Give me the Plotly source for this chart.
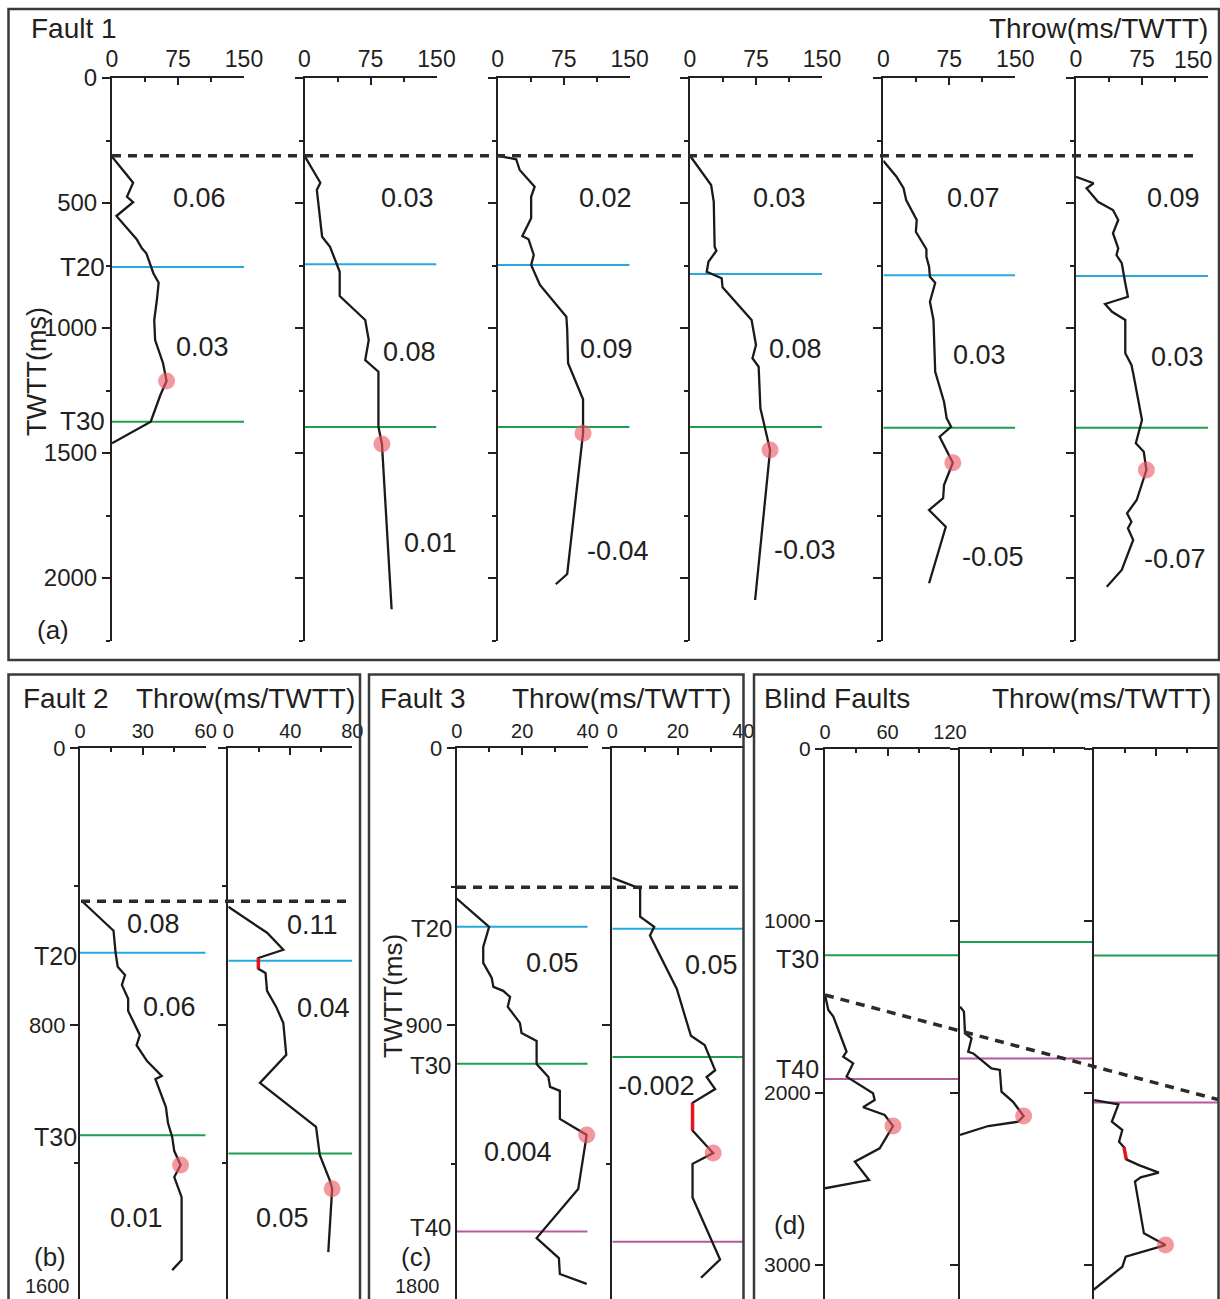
import plotly.graph_objects as go

# ===================== DATA =====================
# Panel (a) Fault 1: six throw profiles, throw (ms TWTT) vs TWTT (ms)
a1_throw = [0, 24, 17, 24, 5, 28, 34, 39, 47, 53, 51, 48, 49, 58, 62, 55, 44, 0]
a1_twtt = [315, 419, 475, 497, 552, 645, 681, 701, 781, 819, 888, 968, 1048, 1141, 1212, 1268, 1375, 1461]
a2_throw = [0, 18, 14, 20, 29, 40, 40, 69, 73, 69, 84, 84, 88, 99]
a2_twtt = [311, 419, 448, 635, 675, 775, 872, 968, 1048, 1128, 1175, 1395, 1464, 2125]
a3_throw = [0, 21, 25, 42, 38, 38, 28, 35, 41, 38, 48, 78, 79, 80, 97, 97, 79, 66]
a3_twtt = [311, 325, 368, 435, 475, 561, 632, 645, 708, 748, 828, 955, 1008, 1141, 1285, 1421, 1984, 2025]
a4_throw = [0, 24, 27, 28, 30, 21, 19, 36, 37, 70, 75, 71, 78, 80, 91, 74]
a4_twtt = [311, 428, 495, 675, 691, 735, 775, 801, 837, 968, 1068, 1121, 1155, 1321, 1488, 2088]
a5_throw = [0, 15, 23, 26, 38, 37, 49, 49, 52, 53, 59, 53, 57, 58, 59, 69, 72, 77, 64, 79, 69, 68, 52, 71, 52]
a5_twtt = [331, 395, 441, 488, 568, 615, 685, 715, 755, 795, 819, 895, 968, 1101, 1175, 1295, 1361, 1395,
           1435, 1539, 1628, 1681, 1728, 1795, 2021]
a6_throw = [0, 20, 12, 25, 42, 48, 42, 48, 46, 52, 56, 59, 33, 41, 56, 56, 63, 65, 75, 68, 77, 80, 69, 58,
            63, 59, 65, 52, 35]
a6_twtt = [395, 421, 441, 495, 528, 568, 621, 681, 708, 741, 821, 875, 904, 935, 968, 1101, 1148, 1181, 1368,
           1461, 1495, 1568, 1688, 1741, 1775, 1801, 1848, 1968, 2035]
a_max_throw = [62, 88, 97, 91, 79, 80]
a_max_twtt = [1212, 1464, 1421, 1488, 1539, 1568]
a_t20 = [756, 745, 748, 784, 789, 792]
a_t30 = [1375, 1396, 1396, 1396, 1399, 1399]
a_tip = 311
a_rates = [["0.06", "0.03"], ["0.03", "0.08", "0.01"], ["0.02", "0.09", "-0.04"],
           ["0.03", "0.08", "-0.03"], ["0.07", "0.03", "-0.05"], ["0.09", "0.03", "-0.07"]]
a_xticks = [0, 75, 150]
a_yticks = [0, 500, 1000, 1500, 2000]

# Panel (b) Fault 2
b1_throw = [1, 16, 17, 18, 21.5, 20, 23, 23, 28.6, 27, 32, 39, 36, 41, 42, 44, 45, 48, 45, 48.5, 48.5, 44]
b1_twtt = [443, 528, 592, 632, 656, 685, 725, 760, 830, 859, 905, 948, 957, 1038, 1084, 1124, 1165, 1205,
           1240, 1298, 1480, 1509]
b2_throw = [0, 25, 35.5, 19.4, 19.4, 24, 25, 31, 35.5, 37.4, 20.4, 56.6, 59, 65.6, 67, 64.5]
b2_twtt = [459, 534, 583, 607, 638, 650, 702, 749, 795, 887, 968, 1095, 1176, 1251, 1274, 1457]
b2_red_throw = [19.4, 19.4]
b2_red_twtt = [607, 638]
b_max_throw = [48, 67]
b_max_twtt = [1205, 1274]
b_t20 = [592, 615]
b_t30 = [1119, 1172]
b_tip = 443
b_rates = [["0.08", "0.06", "0.01"], ["0.11", "0.04", "0.05"]]
b1_xticks = [0, 30, 60]
b2_xticks = [0, 40, 80]
b_yticks = [0, 800]

# Panel (c) Fault 3
c1_throw = [0, 9.9, 8.1, 8.1, 10.7, 11.2, 14.2, 16.3, 15.6, 19.3, 19.8, 24.4, 24.4, 28, 28.5, 31.5, 31.5,
            39.7, 37.1, 24.4, 31.2, 31.5, 39.7]
c1_twtt = [489, 581, 646, 698, 747, 776, 789, 809, 841, 893, 926, 952, 1027, 1069, 1101, 1114, 1205, 1257,
           1433, 1592, 1657, 1709, 1741]
c2_throw = [0, 8.5, 8.5, 12.8, 11.5, 19.7, 24, 28.2, 31.4, 28.8, 31.4, 24.5, 24.5, 30.8, 24.5, 24.5, 32.9, 27.1]
c2_twtt = [422, 457, 548, 581, 609, 783, 935, 965, 1047, 1069, 1108, 1153, 1243, 1316, 1351, 1460, 1662, 1721]
c2_red_throw = [24.5, 24.5]
c2_red_twtt = [1153, 1243]
c_max_throw = [39.7, 30.8]
c_max_twtt = [1257, 1316]
c_t20 = [581, 587]
c_t30 = [1026, 1004]
c_t40 = [1571, 1604]
c_tip = 452
c_rates = [["0.05", "0.004"], ["0.05", "-0.002"]]
c_xticks = [0, 20, 40]
c_yticks = [0, 900]

# Panel (d) Blind faults
d1_throw = [0, 3.2, 8, 17.5, 20.7, 17.5, 27, 20.7, 46.1, 47.7, 36.6, 57.3, 65.3, 52.5, 28.6, 42.3, 0]
d1_twtt = [1430, 1517, 1556, 1711, 1760, 1789, 1828, 1905, 2002, 2041, 2083, 2128, 2192, 2322, 2399, 2506, 2554]
d2_throw = [0, 3.8, 4.8, 11.1, 7.9, 12.7, 30.2, 38.2, 39.8, 50.9, 61.1, 55.7, 27.1, 0]
d2_twtt = [1498, 1527, 1653, 1682, 1760, 1770, 1857, 1866, 1992, 2051, 2134, 2167, 2192, 2244]
d3_throw = [0.7, 23.9, 17.6, 27.7, 24.5, 29.3, 31.5, 43.6, 62.7, 45.3, 39.8, 48.4, 69.1, 30.9, 27.7, 0]
d3_twtt = [2041, 2066, 2167, 2215, 2283, 2316, 2386, 2419, 2463, 2490, 2515, 2816, 2884, 2952, 3010, 3145]
d3_red_throw = [29.3, 31.5]
d3_red_twtt = [2316, 2386]
d_max_throw = [65.3, 61.1, 69.1]
d_max_twtt = [2192, 2134, 2884]
d_t30 = [1199, 1122, 1201]
d_t40 = [1919, 1800, 2055]
d_tip = [1430, 2038]
d_xticks = [0, 60, 120]
d_yticks = [0, 1000, 2000, 3000]

# ===================== LAYOUT HELPERS =====================
W, H = 1220, 1299
INK = "#231f20"
CURVE = "#1a1a1a"
FONT = "Liberation Sans, Arial, sans-serif"
C_T20 = "#29a8e0"
C_T30 = "#1f9e50"
C_T40 = "#b45a9e"
DOT = "rgba(236,88,98,0.62)"
RED = "#e3141c"


def fx(p):
    return p / W


def fy(p):
    return 1 - p / H


fig = go.Figure()
axes = {}
annotations = []
shapes = []


def add_axes(i, xpx, ypx, xrange, yrange, xmaj, xmin, ymaj, ymin, xlab, ylab, xfont, yfont, xtext=None):
    xa = "xaxis" if i == 1 else f"xaxis{i}"
    ya = "yaxis" if i == 1 else f"yaxis{i}"
    xr = "x" if i == 1 else f"x{i}"
    yr = "y" if i == 1 else f"y{i}"
    axes[xa] = dict(
        domain=[fx(xpx[0]), fx(xpx[1])], range=xrange, anchor=yr, side="top",
        showline=True, linecolor=INK, linewidth=2,
        ticks="inside", ticklen=7, tickwidth=2, tickcolor=INK,
        tickmode="array", tickvals=xmaj,
        ticktext=xtext if xtext is not None else [str(v) for v in xmaj],
        showticklabels=xlab, tickfont=dict(size=xfont, color=INK, family=FONT),
        ticklabeloverflow="allow",
        minor=dict(tickmode="array", tickvals=xmin, ticks="inside", ticklen=4,
                   tickwidth=2, tickcolor=INK, showgrid=False),
        showgrid=False, zeroline=False, automargin=False, fixedrange=True)
    axes[ya] = dict(
        domain=[fy(ypx[1]), fy(ypx[0])], range=yrange, anchor=xr, side="left",
        showline=True, linecolor=INK, linewidth=2,
        ticks="outside", ticklen=8, tickwidth=2, tickcolor=INK,
        tickmode="array", tickvals=ymaj, ticktext=[str(v) for v in ymaj],
        showticklabels=ylab, tickfont=dict(size=yfont, color=INK, family=FONT),
        ticklabeloverflow="allow",
        minor=dict(tickmode="array", tickvals=ymin, ticks="outside", ticklen=4,
                   tickwidth=2, tickcolor=INK, showgrid=False),
        showgrid=False, zeroline=False, automargin=False, fixedrange=True)
    return xr, yr


def add_profile(xr, yr, throw, twtt, mx, my, red=None):
    fig.add_trace(go.Scatter(x=throw, y=twtt, xaxis=xr, yaxis=yr, mode="lines",
                             line=dict(color=CURVE, width=2.3), hoverinfo="skip", showlegend=False))
    if red is not None:
        fig.add_trace(go.Scatter(x=red[0], y=red[1], xaxis=xr, yaxis=yr, mode="lines",
                                 line=dict(color=RED, width=3.5), hoverinfo="skip", showlegend=False))
    fig.add_trace(go.Scatter(x=[mx], y=[my], xaxis=xr, yaxis=yr, mode="markers",
                             marker=dict(size=17, color=DOT), cliponaxis=False,
                             hoverinfo="skip", showlegend=False))


def hline(xr, yr, x1, y, color, xpaper=None):
    if xpaper is None:
        shapes.append(dict(type="line", xref=xr, yref=yr, x0=0, x1=x1, y0=y, y1=y,
                           line=dict(color=color, width=2), layer="below"))
    else:
        shapes.append(dict(type="line", xref="paper", yref=yr, x0=fx(xpaper[0]), x1=fx(xpaper[1]),
                           y0=y, y1=y, line=dict(color=color, width=2), layer="below"))


def dashed(yr, xpx0, xpx1, y0, y1):
    shapes.append(dict(type="line", xref="paper", yref=yr, x0=fx(xpx0), x1=fx(xpx1), y0=y0, y1=y1,
                       line=dict(color="#2b2b2b", width=3.5, dash="9px,7px"), layer="above"))


def text(t, xp, yp, size, xanchor="center", angle=0):
    annotations.append(dict(text=t, x=fx(xp), y=fy(yp), xref="paper", yref="paper", showarrow=False,
                            xanchor=xanchor, yanchor="middle", textangle=angle,
                            font=dict(size=size, color=INK, family=FONT)))


def border(x0, y0, x1, y1):
    shapes.append(dict(type="rect", xref="paper", yref="paper", x0=fx(x0), y0=fy(y0), x1=fx(x1), y1=fy(y1),
                       line=dict(color="#3a3a3a", width=2.5), fillcolor="rgba(0,0,0,0)", layer="above"))


# ===================== PANEL (a) =====================
a_data = [(a1_throw, a1_twtt), (a2_throw, a2_twtt), (a3_throw, a3_twtt),
          (a4_throw, a4_twtt), (a5_throw, a5_twtt), (a6_throw, a6_twtt)]
a_left = [112, 304.5, 497.7, 690, 883.3, 1076]
a_rate_pos = [[(199, 198), (202, 347)],
              [(407, 198), (409, 352), (430, 543)],
              [(605, 198), (606, 349), (618, 551)],
              [(779, 198), (795, 349), (805, 550)],
              [(973, 198), (979, 355), (993, 557)],
              [(1173, 198), (1177, 357), (1175, 559)]]
a_first_y = None
for k in range(6):
    # last profile: its "150" label sits at the frame edge, drawn separately (right-aligned)
    xtext = [str(a_xticks[0]), str(a_xticks[1]), ""] if k == 5 else None
    xr, yr = add_axes(k + 1, (a_left[k], a_left[k] + 132), (78, 640.5), [0, 150], [2250, 0],
                      a_xticks, [37.5, 112.5], a_yticks, [250, 750, 1250, 1750, 2250],
                      True, k == 0, 23, 24, xtext=xtext)
    if k == 0:
        a_first_y = yr
    add_profile(xr, yr, a_data[k][0], a_data[k][1], a_max_throw[k], a_max_twtt[k])
    hline(xr, yr, 150, a_t20[k], C_T20)
    hline(xr, yr, 150, a_t30[k], C_T30)
    for t, (px_, py_) in zip(a_rates[k], a_rate_pos[k]):
        text(t, px_, py_, 27)
text(str(a_xticks[2]), 1214, 60, 23, xanchor="right")
dashed(a_first_y, 112, 1199, a_tip, a_tip)
border(8.5, 9, 1219, 660)
text("Fault 1", 29, 29, 28, xanchor="left")
text("Throw(ms/TWTT)", 1210, 29, 28, xanchor="right")
text("T20", 107, 267, 26, xanchor="right")
text("T30", 107, 421, 26, xanchor="right")
text("TWTT(ms)", 37, 372, 27, angle=-90)
text("(a)", 53, 630, 26)

# ===================== PANEL (b) =====================
b_yr_max = (1299 - 748) / 0.346
xr7, yr7 = add_axes(7, (80, 205.7), (748, 1299), [0, 60], [b_yr_max, 0],
                    b1_xticks, [15, 45], b_yticks, [400, 1200], True, True, 20, 22)
xr8, yr8 = add_axes(8, (228.3, 352.3), (748, 1299), [0, 80], [b_yr_max, 0],
                    b2_xticks, [20, 60], b_yticks, [400, 1200], True, False, 20, 22)
add_profile(xr7, yr7, b1_throw, b1_twtt, b_max_throw[0], b_max_twtt[0])
add_profile(xr8, yr8, b2_throw, b2_twtt, b_max_throw[1], b_max_twtt[1], red=(b2_red_throw, b2_red_twtt))
hline(xr7, yr7, 60, b_t20[0], C_T20)
hline(xr7, yr7, 60, b_t30[0], C_T30)
hline(xr8, yr8, 80, b_t20[1], C_T20)
hline(xr8, yr8, 80, b_t30[1], C_T30)
dashed(yr7, 81, 353, b_tip, b_tip)
b_rate_pos = [[(153, 924), (170, 1007), (136, 1218)], [(312, 925), (324, 1008), (282, 1218)]]
for k in range(2):
    for t, (px_, py_) in zip(b_rates[k], b_rate_pos[k]):
        text(t, px_, py_, 27)
border(8.5, 674.5, 360, 1312)
text("Fault 2", 21, 698, 28, xanchor="left")
text("Throw(ms/TWTT)", 357, 698, 28, xanchor="right")
text("T20", 79, 956, 25, xanchor="right")
text("T30", 79, 1137, 25, xanchor="right")
text("(b)", 50, 1257, 26)
text("1600", 72, 1286, 20, xanchor="right")

# ===================== PANEL (c) =====================
c_yr_max = (1299 - 748) / 0.3078
xr9, yr9 = add_axes(9, (456.7, 587.7), (748, 1299), [0, 40], [c_yr_max, 0],
                    c_xticks, [10, 30], c_yticks, [450, 1350], True, True, 20, 22)
xr10, yr10 = add_axes(10, (612.3, 743.3), (748, 1299), [0, 40], [c_yr_max, 0],
                      c_xticks, [10, 30], c_yticks, [450, 1350], True, False, 20, 22)
add_profile(xr9, yr9, c1_throw, c1_twtt, c_max_throw[0], c_max_twtt[0])
add_profile(xr10, yr10, c2_throw, c2_twtt, c_max_throw[1], c_max_twtt[1], red=(c2_red_throw, c2_red_twtt))
for xr_, yr_, k in ((xr9, yr9, 0), (xr10, yr10, 1)):
    hline(xr_, yr_, 40, c_t20[k], C_T20)
    hline(xr_, yr_, 40, c_t30[k], C_T30)
    hline(xr_, yr_, 40, c_t40[k], C_T40)
dashed(yr9, 457, 743, c_tip, c_tip)
c_rate_pos = [[(552, 963), (518, 1152)], [(711, 965), (656, 1086)]]
for k in range(2):
    for t, (px_, py_) in zip(c_rates[k], c_rate_pos[k]):
        text(t, px_, py_, 27)
border(369, 674.5, 743.5, 1312)
text("Fault 3", 378, 698, 28, xanchor="left")
text("Throw(ms/TWTT)", 733, 698, 28, xanchor="right")
text("T20", 454, 929, 24, xanchor="right")
text("T30", 453, 1065, 24, xanchor="right")
text("T40", 453, 1227, 24, xanchor="right")
text("TWTT(ms)", 393, 996, 26, angle=-90)
text("(c)", 416, 1257, 26)
text("1800", 442, 1286, 20, xanchor="right")

# ===================== PANEL (d) =====================
d_yr_max = (1299 - 749) / 0.172
d_left = [825, 960, 1093.5]
d_data = [(d1_throw, d1_twtt, None), (d2_throw, d2_twtt, None), (d3_throw, d3_twtt, (d3_red_throw, d3_red_twtt))]
d_hl_ends = [(825, 960), (960, 1093.5), (1093.5, 1218)]
d_first_y = None
for k in range(3):
    xr_, yr_ = add_axes(11 + k, (d_left[k], d_left[k] + 125), (749, 1299), [0, 120], [d_yr_max, 0],
                        d_xticks, [30, 90], d_yticks, [], k == 0, k == 0, 20, 21)
    if k == 0:
        d_first_y = yr_
    add_profile(xr_, yr_, d_data[k][0], d_data[k][1], d_max_throw[k], d_max_twtt[k], red=d_data[k][2])
    hline(xr_, yr_, None, d_t30[k], C_T30, xpaper=d_hl_ends[k])
    hline(xr_, yr_, None, d_t40[k], C_T40, xpaper=d_hl_ends[k])
dashed(d_first_y, 825, 1218, d_tip[0], d_tip[1])
border(754, 674.5, 1218.5, 1312)
text("Blind Faults", 762, 698, 28, xanchor="left")
text("Throw(ms/TWTT)", 1213, 698, 28, xanchor="right")
text("T30", 821, 959, 25, xanchor="right")
text("T40", 821, 1069, 25, xanchor="right")
text("(d)", 790, 1225, 26)

fig.update_layout(
    width=W, height=H, autosize=False,
    margin=dict(l=0, r=0, t=0, b=0, pad=0),
    paper_bgcolor="white", plot_bgcolor="rgba(0,0,0,0)",
    font=dict(family=FONT, color=INK),
    showlegend=False,
    annotations=annotations,
    shapes=shapes,
    **axes,
)

fig.write_html("out.html", config={"displayModeBar": False},
               post_script="document.body.style.margin='0';document.body.style.overflow='hidden';")
